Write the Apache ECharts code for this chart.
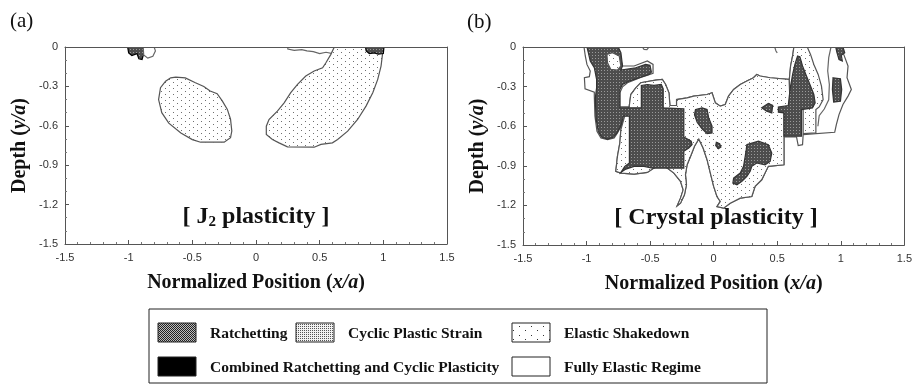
<!DOCTYPE html>
<html><head><meta charset="utf-8">
<script src="https://cdn.jsdelivr.net/npm/echarts@6/dist/echarts.min.js"></script>
<style>html,body{margin:0;padding:0;background:#fff}#c{width:915px;height:385px}</style>
</head><body><div id="c"></div>
<script>
// ---------- axis data ----------
const xMin = -1.5, xMax = 1.5, xStep = 0.5;
const yMin = -1.5, yMax = 0, yStep = 0.3;
const xTickLabels = ['-1.5', '-1', '-0.5', '0', '0.5', '1', '1.5'];
const yTickLabels = ['-1.5', '-1.2', '-0.9', '-0.6', '-0.3', '0'];
const panelLabels = ['(a)', '(b)'];
const legendLabels = ['Ratchetting', 'Cyclic Plastic Strain', 'Elastic Shakedown',
  'Combined Ratchetting and Cyclic Plasticity', 'Fully Elastic Regime'];

// ---------- panel (a) regions, [x/a, y/a] ----------
const a_topStrip = [[0.25,0],[0.86,0],[0.80,-0.03],[0.72,-0.035],[0.66,-0.03],[0.60,-0.05],[0.55,-0.04],[0.50,-0.05],[0.45,-0.035],[0.40,-0.03],[0.36,-0.02],[0.30,-0.025],[0.25,-0.015]];
const a_leftBlob = [[-0.63,-0.23],[-0.555,-0.235],[-0.48,-0.27],[-0.41,-0.30],[-0.36,-0.335],[-0.305,-0.355],[-0.265,-0.41],[-0.225,-0.475],[-0.20,-0.55],[-0.19,-0.64],[-0.20,-0.69],[-0.25,-0.725],[-0.435,-0.725],[-0.50,-0.705],[-0.59,-0.655],[-0.685,-0.58],[-0.74,-0.50],[-0.765,-0.40],[-0.75,-0.31],[-0.71,-0.26],[-0.67,-0.235]];
const a_rightBlob = [[0.615,0],[0.588,-0.056],[0.549,-0.12],[0.523,-0.158],[0.457,-0.183],[0.391,-0.221],[0.326,-0.285],[0.273,-0.348],[0.221,-0.425],[0.168,-0.488],[0.102,-0.552],[0.081,-0.603],[0.081,-0.666],[0.129,-0.704],[0.181,-0.73],[0.247,-0.76],[0.457,-0.763],[0.51,-0.742],[0.60,-0.73],[0.641,-0.704],[0.72,-0.641],[0.798,-0.552],[0.864,-0.45],[0.917,-0.348],[0.956,-0.247],[0.982,-0.145],[0.995,-0.043],[1.003,0]];
const a_ratchetLeft = [[-1.008,0],[-0.886,0],[-0.88,-0.045],[-0.895,-0.095],[-0.92,-0.09],[-0.935,-0.05],[-0.975,-0.065],[-1.0,-0.045]];
const a_elasticLeft = [[-0.886,0],[-0.80,0],[-0.79,-0.03],[-0.81,-0.07],[-0.85,-0.085],[-0.882,-0.06]];
const a_ratchetRight = [[0.86,0],[1.005,0],[1.0,-0.05],[0.96,-0.055],[0.93,-0.045],[0.89,-0.05],[0.865,-0.03]];

// ---------- panel (b) regions ----------
const b_envelope = [[-1.02,0],[-0.783,0],[-0.757,-0.043],[-0.730,-0.106],[-0.717,-0.144],[-0.626,-0.144],[-0.522,-0.106],[-0.477,-0.132],[-0.477,-0.200],[-0.574,-0.231],[-0.678,-0.271],[-0.717,-0.302],[-0.738,-0.347],[-0.738,-0.454],[-0.665,-0.454],[-0.652,-0.360],[-0.613,-0.309],[-0.574,-0.271],[-0.457,-0.251],[-0.404,-0.246],[-0.378,-0.284],[-0.352,-0.347],[-0.344,-0.443],[-0.292,-0.443],[-0.292,-0.398],[-0.209,-0.385],[-0.157,-0.372],[-0.052,-0.360],[-0.013,-0.347],[0.013,-0.423],[0.052,-0.448],[0.091,-0.436],[0.117,-0.372],[0.157,-0.322],[0.209,-0.284],[0.261,-0.258],[0.313,-0.233],[0.339,-0.208],[0.365,-0.220],[0.444,-0.233],[0.595,-0.246],[0.605,-0.144],[0.621,-0.068],[0.631,0],[1.004,0],[1.023,-0.056],[1.057,-0.144],[1.049,-0.233],[1.083,-0.322],[1.057,-0.372],[1.017,-0.436],[0.986,-0.512],[0.965,-0.588],[0.952,-0.646],[0.704,-0.664],[0.699,-0.740],[0.665,-0.747],[0.652,-0.682],[0.553,-0.682],[0.553,-0.892],[0.430,-0.904],[0.404,-0.955],[0.378,-1.006],[0.326,-1.056],[0.300,-1.133],[0.209,-1.145],[0.130,-1.183],[0.078,-1.221],[0.026,-1.209],[0.052,-1.170],[0.026,-1.133],[0,-1.056],[-0.026,-0.955],[-0.052,-0.854],[-0.083,-0.765],[-0.117,-0.697],[-0.151,-0.752],[-0.177,-0.816],[-0.209,-0.892],[-0.222,-0.968],[-0.214,-1.044],[-0.230,-1.120],[-0.261,-1.183],[-0.287,-1.203],[-0.261,-1.145],[-0.240,-1.082],[-0.261,-1.018],[-0.313,-0.955],[-0.365,-0.917],[-0.417,-0.897],[-0.470,-0.917],[-0.522,-0.950],[-0.626,-0.963],[-0.730,-0.955],[-0.770,-0.942],[-0.757,-0.828],[-0.738,-0.727],[-0.730,-0.626],[-0.704,-0.537],[-0.730,-0.600],[-0.757,-0.651],[-0.783,-0.689],[-0.835,-0.702],[-0.887,-0.689],[-0.918,-0.638],[-0.934,-0.524],[-0.939,-0.372],[-0.939,-0.342],[-1.012,-0.317],[-1.017,-0.233],[-0.978,-0.225],[-0.971,-0.182],[-0.997,-0.132],[-1.010,-0.068]];
const b_cyclicMain = [[-0.665,-0.454],[-0.652,-0.360],[-0.613,-0.309],[-0.574,-0.271],[-0.457,-0.251],[-0.404,-0.246],[-0.378,-0.284],[-0.352,-0.347],[-0.344,-0.443],[-0.292,-0.443],[-0.292,-0.398],[-0.209,-0.385],[-0.157,-0.372],[-0.052,-0.360],[-0.013,-0.347],[0.013,-0.423],[0.052,-0.448],[0.091,-0.436],[0.117,-0.372],[0.157,-0.322],[0.209,-0.284],[0.261,-0.258],[0.313,-0.233],[0.339,-0.208],[0.365,-0.220],[0.444,-0.233],[0.595,-0.246],[0.600,-0.454],[0.553,-0.454],[0.553,-0.892],[0.430,-0.904],[0.404,-0.955],[0.378,-1.006],[0.326,-1.056],[0.300,-1.133],[0.209,-1.145],[0.130,-1.183],[0.078,-1.221],[0.026,-1.209],[0.052,-1.170],[0.026,-1.133],[0,-1.056],[-0.026,-0.955],[-0.052,-0.854],[-0.083,-0.765],[-0.117,-0.697],[-0.151,-0.752],[-0.177,-0.816],[-0.209,-0.892],[-0.222,-0.968],[-0.214,-1.044],[-0.230,-1.120],[-0.261,-1.183],[-0.287,-1.203],[-0.261,-1.145],[-0.240,-1.082],[-0.261,-1.018],[-0.313,-0.955],[-0.365,-0.917],[-0.417,-0.897],[-0.470,-0.917],[-0.522,-0.950],[-0.626,-0.963],[-0.730,-0.955],[-0.770,-0.942],[-0.757,-0.828],[-0.738,-0.727],[-0.730,-0.626],[-0.704,-0.537],[-0.678,-0.474]];
const b_cyclicBand = [[0.631,0],[0.736,0],[0.762,-0.056],[0.788,-0.132],[0.822,-0.208],[0.848,-0.296],[0.861,-0.398],[0.830,-0.454],[0.804,-0.474],[0.804,-0.651],[0.704,-0.656],[0.704,-0.474],[0.600,-0.454],[0.595,-0.246],[0.605,-0.144],[0.621,-0.068]];
const b_cyclicNotch = [[-0.840,-0.056],[-0.796,-0.043],[-0.743,-0.068],[-0.730,-0.144],[-0.757,-0.175],[-0.809,-0.170],[-0.835,-0.119]];
const b_ratchetLeft = [[-0.997,0],[-0.751,0],[-0.730,-0.043],[-0.717,-0.144],[-0.730,-0.175],[-0.613,-0.157],[-0.535,-0.132],[-0.501,-0.139],[-0.490,-0.190],[-0.509,-0.208],[-0.587,-0.233],[-0.665,-0.258],[-0.717,-0.284],[-0.738,-0.322],[-0.738,-0.461],[-0.569,-0.461],[-0.569,-0.291],[-0.522,-0.284],[-0.470,-0.291],[-0.412,-0.284],[-0.397,-0.317],[-0.397,-0.461],[-0.235,-0.469],[-0.235,-0.682],[-0.177,-0.714],[-0.170,-0.740],[-0.196,-0.765],[-0.235,-0.790],[-0.235,-0.917],[-0.483,-0.917],[-0.548,-0.904],[-0.626,-0.904],[-0.691,-0.925],[-0.730,-0.950],[-0.699,-0.904],[-0.663,-0.879],[-0.663,-0.524],[-0.710,-0.524],[-0.730,-0.595],[-0.757,-0.646],[-0.788,-0.682],[-0.835,-0.697],[-0.882,-0.682],[-0.908,-0.638],[-0.926,-0.537],[-0.931,-0.385],[-0.921,-0.309],[-0.921,-0.246],[-0.939,-0.157],[-0.971,-0.106],[-0.986,-0.043]];
const b_ratchetC1 = [[-0.143,-0.474],[-0.091,-0.461],[-0.052,-0.474],[-0.039,-0.537],[-0.013,-0.600],[-0.013,-0.651],[-0.052,-0.656],[-0.091,-0.621],[-0.130,-0.570],[-0.151,-0.512]];
const b_ratchetC2 = [[0.021,-0.722],[0.047,-0.732],[0.057,-0.758],[0.037,-0.770],[0.016,-0.747]];
const b_ratchetC3 = [[0.261,-0.740],[0.352,-0.714],[0.430,-0.740],[0.457,-0.803],[0.444,-0.867],[0.404,-0.892],[0.339,-0.879],[0.300,-0.904],[0.287,-0.942],[0.261,-0.981],[0.222,-1.018],[0.183,-1.044],[0.151,-1.031],[0.157,-0.993],[0.209,-0.955],[0.235,-0.904],[0.248,-0.828],[0.256,-0.778]];
const b_ratchetC4 = [[0.378,-0.461],[0.430,-0.428],[0.464,-0.443],[0.457,-0.499],[0.417,-0.486]];
const b_ratchetSpindle = [[0.660,-0.068],[0.678,-0.073],[0.699,-0.144],[0.725,-0.208],[0.757,-0.284],[0.788,-0.360],[0.798,-0.423],[0.777,-0.461],[0.691,-0.474],[0.691,-0.676],[0.553,-0.676],[0.553,-0.499],[0.509,-0.494],[0.509,-0.454],[0.587,-0.443],[0.595,-0.372],[0.605,-0.296],[0.621,-0.208],[0.639,-0.132]];
const b_ratchetR1 = [[0.939,-0.233],[0.997,-0.241],[1.007,-0.322],[0.997,-0.410],[0.944,-0.418],[0.934,-0.322]];
const b_ratchetR2 = [[0.960,0],[1.017,0],[1.031,-0.043],[1.004,-0.063],[1.012,-0.106],[0.986,-0.096],[0.970,-0.043]];
const b_topBump = [[-0.561,0],[-0.548,-0.018],[-0.525,-0.020],[-0.509,0]];
const b_bandLine = [[0.923,0],[0.905,-0.081],[0.897,-0.182],[0.910,-0.284],[0.905,-0.40],[0.87,-0.47],[0.83,-0.52],[0.82,-0.60]];
const b_topLine = [[0.48,0],[0.49,-0.03],[0.50,-0.045]];

// ---------- fill patterns ----------
function pattern(w, h, bg, dotColor, dots) {
  const c = document.createElement('canvas');
  c.width = w; c.height = h;
  const g = c.getContext('2d');
  g.fillStyle = bg; g.fillRect(0, 0, w, h);
  g.fillStyle = dotColor;
  dots.forEach(d => g.fillRect(d[0], d[1], 1, 1));
  return { image: c, repeat: 'repeat' };
}
const fills = {
  cyclic: pattern(8, 6, '#ffffff', '#6f6f6f', [[1, 1], [5, 4]]),
  ratchet: pattern(3, 3, '#4d4d4d', '#9a9a9a', [[1, 1]]),
  elastic: '#ffffff',
  black: '#000000'
};
const legendFills = {
  ratchet: pattern(2, 2, '#bdbdbd', '#222222', [[0, 0], [1, 1]]),
  cyclic: pattern(2, 2, '#f2f2f2', '#555555', [[0, 0]]),
  shake: pattern(12, 9, '#ffffff', '#333333', [[3, 2], [9, 6]])
};

const panelA = [
  { pts: a_topStrip, kind: 'elastic', stroke: '#666' },
  { pts: a_rightBlob, kind: 'cyclic', stroke: '#555' },
  { pts: a_leftBlob, kind: 'cyclic', stroke: '#555' },
  { pts: a_ratchetLeft, kind: 'ratchet', stroke: '#000' },
  { pts: a_elasticLeft, kind: 'elastic', stroke: '#666' },
  { pts: a_ratchetRight, kind: 'ratchet', stroke: '#000' }
];
const panelB = [
  { pts: b_envelope, kind: 'elastic', stroke: '#555' },
  { pts: b_cyclicMain, kind: 'cyclic', stroke: '#555' },
  { pts: b_cyclicBand, kind: 'cyclic', stroke: '#555' },
  { pts: b_ratchetLeft, kind: 'ratchet', stroke: '#333' },
  { pts: b_cyclicNotch, kind: 'cyclic', stroke: '#555' },
  { pts: b_ratchetC1, kind: 'ratchet', stroke: '#333' },
  { pts: b_ratchetC2, kind: 'ratchet', stroke: '#333' },
  { pts: b_ratchetC3, kind: 'ratchet', stroke: '#333' },
  { pts: b_ratchetC4, kind: 'ratchet', stroke: '#333' },
  { pts: b_ratchetSpindle, kind: 'ratchet', stroke: '#333' },
  { pts: b_ratchetR1, kind: 'ratchet', stroke: '#333' },
  { pts: b_ratchetR2, kind: 'ratchet', stroke: '#333' },
  { pts: b_topBump, kind: 'elastic', stroke: '#666' },
  { pts: b_bandLine, kind: 'line', stroke: '#666' },
  { pts: b_topLine, kind: 'line', stroke: '#666' }
];

function regionSeries(list, idx) {
  return {
    type: 'custom', xAxisIndex: idx, yAxisIndex: idx, z: 2, clip: true, silent: true,
    data: list.map(p => p.pts[0]),
    renderItem: function (params, api) {
      const p = list[params.dataIndex];
      const pts = p.pts.map(q => api.coord(q));
      if (p.kind === 'line') {
        return { type: 'polyline', shape: { points: pts }, style: { fill: null, stroke: p.stroke, lineWidth: 1.2 } };
      }
      return { type: 'polygon', shape: { points: pts }, style: { fill: fills[p.kind], stroke: p.stroke, lineWidth: 1.2 } };
    }
  };
}

const serif = 'Liberation Serif, Times New Roman, serif';
const sans = 'Liberation Sans, Arial, sans-serif';
const nameRich = {
  b: { fontFamily: serif, fontWeight: 'bold', fontSize: 20, color: '#111' },
  i: { fontFamily: serif, fontWeight: 'bold', fontStyle: 'italic', fontSize: 20, color: '#111' }
};
function xAxisCfg(gi) {
  return {
    type: 'value', gridIndex: gi, min: xMin, max: xMax, interval: xStep, z: 5,
    name: '{b|Normalized Position (}{i|x/a}{b|)}', nameLocation: 'middle', nameGap: 29,
    nameTextStyle: { rich: nameRich },
    axisLine: { onZero: false, lineStyle: { color: '#555', width: 1 } },
    axisTick: { inside: true, length: 4, lineStyle: { color: '#555' } },
    minorTick: { show: true, splitNumber: 5, length: 2, lineStyle: { color: '#777' } },
    splitLine: { show: false },
    axisLabel: { margin: 8, fontFamily: sans, fontSize: 11, color: '#333',
      formatter: v => xTickLabels[Math.round((v - xMin) / xStep)] }
  };
}
function yAxisCfg(gi) {
  return {
    type: 'value', gridIndex: gi, min: yMin, max: yMax, interval: yStep, z: 5,
    name: '{b|Depth (}{i|y/a}{b|)}', nameLocation: 'middle', nameGap: 35,
    nameTextStyle: { rich: nameRich },
    axisLine: { onZero: false, lineStyle: { color: '#555', width: 1 } },
    axisTick: { inside: true, length: 4, lineStyle: { color: '#555' } },
    minorTick: { show: true, splitNumber: 3, length: 2, lineStyle: { color: '#777' } },
    splitLine: { show: false },
    axisLabel: { margin: 7, fontFamily: sans, fontSize: 11, color: '#333',
      formatter: v => yTickLabels[Math.round((v - yMin) / yStep)] }
  };
}
function frameX(gi) {
  return { type: 'value', gridIndex: gi, position: 'top', min: xMin, max: xMax, z: 5,
    axisLine: { onZero: false, lineStyle: { color: '#555' } }, axisTick: { show: false },
    axisLabel: { show: false }, splitLine: { show: false } };
}
function frameY(gi) {
  return { type: 'value', gridIndex: gi, position: 'right', min: yMin, max: yMax, z: 5,
    axisLine: { onZero: false, lineStyle: { color: '#555' } }, axisTick: { show: false },
    axisLabel: { show: false }, splitLine: { show: false } };
}

// ---------- legend (graphic) ----------
const lg = { x: 149, y: 309, w: 618, h: 74 };
const legendItems = [
  { label: legendLabels[0], fill: legendFills.ratchet, x: 158, y: 323 },
  { label: legendLabels[1], fill: legendFills.cyclic, x: 296, y: 323 },
  { label: legendLabels[2], fill: legendFills.shake, x: 512, y: 323 },
  { label: legendLabels[3], fill: '#000', x: 158, y: 357 },
  { label: legendLabels[4], fill: '#fff', x: 512, y: 357 }
];
const graphics = [
  { type: 'rect', shape: { x: lg.x, y: lg.y, width: lg.w, height: lg.h },
    style: { fill: '#fff', stroke: '#222', lineWidth: 1 } }
];
legendItems.forEach(it => {
  graphics.push({ type: 'rect', shape: { x: it.x, y: it.y, width: 38, height: 19 },
    style: { fill: it.fill, stroke: '#222', lineWidth: 1 } });
  graphics.push({ type: 'text', x: it.x + 52, y: it.y + 11,
    style: { text: it.label, font: 'bold 15.5px ' + serif, fill: '#111', verticalAlign: 'middle' } });
});
graphics.push({ type: 'text', x: 10, y: 21, style: { text: panelLabels[0], font: '21px ' + serif, fill: '#111', verticalAlign: 'middle' } });
graphics.push({ type: 'text', x: 467, y: 22, style: { text: panelLabels[1], font: '21px ' + serif, fill: '#111', verticalAlign: 'middle' } });
graphics.push({ type: 'text', x: 256, y: 217, z: 10,
  style: { text: '{m|[ J}{s|2}{m| plasticity ]}', align: 'center', verticalAlign: 'middle',
    rich: { m: { font: 'bold 24px ' + serif, fill: '#111' }, s: { font: 'bold 15px ' + serif, fill: '#111', padding: [11, 0, 0, 0] } } } });
graphics.push({ type: 'text', x: 716, y: 218, z: 10,
  style: { text: '[ Crystal plasticity ]', font: 'bold 24px ' + serif, fill: '#111', align: 'center', verticalAlign: 'middle' } });

const chart = echarts.init(document.getElementById('c'), null, { renderer: 'canvas' });
chart.setOption({
  animation: false,
  backgroundColor: '#fff',
  grid: [
    { left: 65, top: 47, width: 382, height: 197 },
    { left: 523, top: 47, width: 384, height: 198 }
  ],
  xAxis: [xAxisCfg(0), xAxisCfg(1), frameX(0), frameX(1)],
  yAxis: [yAxisCfg(0), yAxisCfg(1), frameY(0), frameY(1)],
  series: [regionSeries(panelA, 0), regionSeries(panelB, 1)],
  graphic: graphics
});
</script>
</body></html>
